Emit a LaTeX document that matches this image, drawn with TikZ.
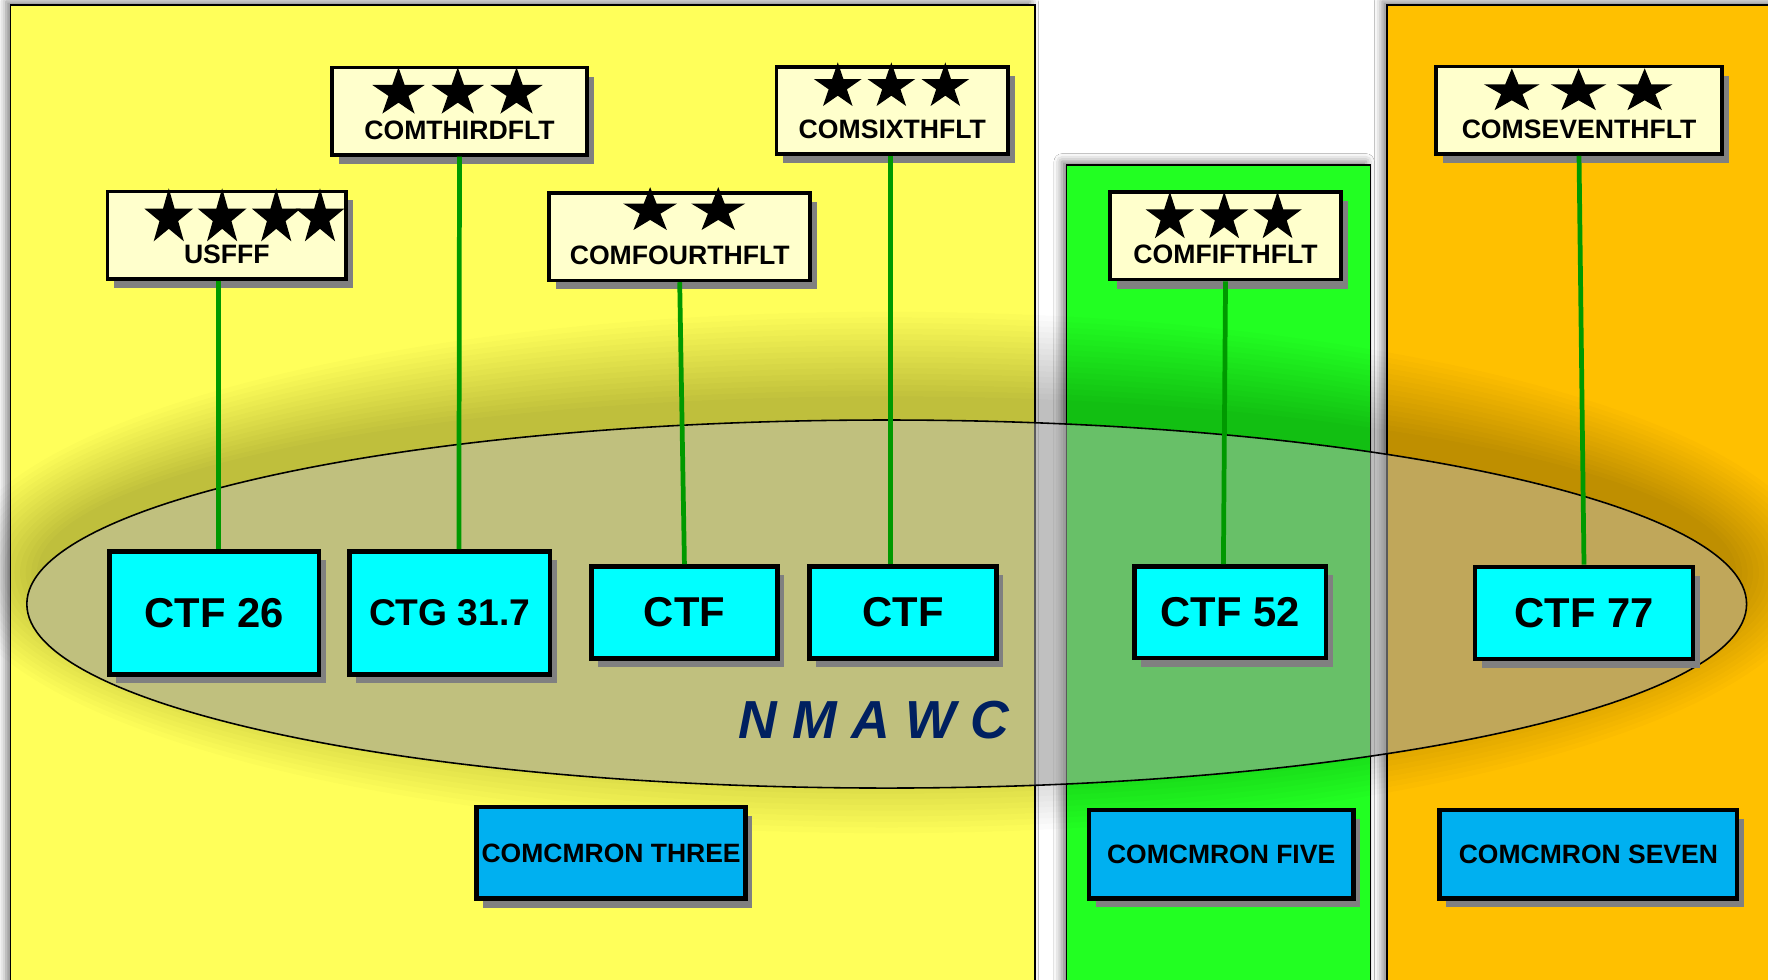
\documentclass[tikz,border=0pt]{standalone}
\usepackage{fontspec}
\setmainfont{Liberation Sans}
\usetikzlibrary{shadows,shadows.blur}
\definecolor{panelyellow}{RGB}{255,255,90}
\definecolor{panelgreen}{RGB}{34,255,34}
\definecolor{panelorange}{RGB}{255,192,0}
\definecolor{cmdfill}{RGB}{255,255,204}
\definecolor{ctfcyan}{RGB}{0,255,255}
\definecolor{sqblue}{RGB}{0,176,240}
\definecolor{linkgreen}{RGB}{0,153,0}
\definecolor{navytext}{RGB}{0,32,96}
\definecolor{ellgray}{RGB}{151,151,151}
\definecolor{shadowgray}{RGB}{128,128,128}
\newcommand\milstar[4]{\fill[black, shift={(#1,#2)}, xscale=#3, yscale=#4] (270:1) \foreach \k in {0,...,4}{ -- (270+72*\k:1) -- (306+72*\k:0.382)} -- cycle;}
\tikzset{
  panel/.style={draw=black, line width=1.2pt, blur shadow={shadow xshift=-4pt, shadow yshift=3pt, shadow blur radius=7pt, shadow opacity=50}},
  boxshadow/.style={drop shadow={shadow xshift=6pt, shadow yshift=-8pt, fill=shadowgray, opacity=1}},
  cmdbox/.style={rectangle, draw=black, line width=3.3pt, fill=cmdfill, boxshadow, inner sep=0pt, minimum height=77.5pt},
  cmdlabel/.style={anchor=base, inner sep=0pt, font=\bfseries\fontsize{23.6}{26}\selectfont},
  ctfbox/.style={rectangle, draw=black, line width=4pt, fill=ctfcyan, boxshadow, inner sep=0pt, font=\bfseries\fontsize{37}{40}\selectfont},
  sqbox/.style={rectangle, draw=black, line width=4pt, fill=sqblue, boxshadow, inner sep=0pt, font=\bfseries\fontsize{23.5}{26}\selectfont},
  link/.style={draw=linkgreen, line width=4.2pt}
}
\begin{document}
\begin{tikzpicture}[x=1pt,y=-1pt]
\useasboundingbox (0,0) rectangle (1568,869);
\fill[white] (0,0) rectangle (1568,869);
\clip (0,0) rectangle (1568,869);
% panels
\path[panel, fill=panelyellow] (9.5,4.4) rectangle (917.8,890);
\path[panel, fill=panelgreen] (945.7,146.3) rectangle (1215.7,890);
\path[panel, fill=panelorange] (1230,4.4) rectangle (1590,890);
% glow around the ellipse
\begin{scope}[even odd rule]
\clip (-20,-20) rectangle (1600,900) (786.4,535.7) ellipse [x radius=762.6, y radius=163.2];
\foreach \i in {1,...,16} \fill[black, opacity=0.016] (786.4,507.7) ellipse [x radius={748.6+5*\i}, y radius={151.2+5*\i}];
\end{scope}
% ellipse
\fill[ellgray, opacity=0.6] (786.4,535.7) ellipse [x radius=762.6, y radius=163.2];
\draw[black, line width=1.4pt] (786.4,535.7) ellipse [x radius=762.6, y radius=163.2];
% command boxes
\node[cmdbox, minimum width=211.7pt] (usfff) at (201.2,208.5) {};
\node[cmdbox, minimum width=226pt] (third) at (407.5,98.6) {};
\node[cmdbox, minimum width=231.5pt] (fourth) at (602.8,209.9) {};
\node[cmdbox, minimum width=205.7pt] (sixth) at (791.4,98) {};
\node[cmdbox, minimum width=205.2pt] (fifth) at (1086.9,209.2) {};
\node[cmdbox, minimum width=253.7pt] (seventh) at (1400.4,97.8) {};
% task force boxes
\node[ctfbox, minimum width=186pt, minimum height=109pt] (ctf26) at (190,543.5) {CTF 26};
\node[ctfbox, minimum width=178pt, minimum height=109pt, font=\bfseries\fontsize{33}{36}\selectfont] (ctg317) at (398.8,543.5) {CTG 31.7};
\node[ctfbox, minimum width=165pt, minimum height=81.5pt] (ctfa) at (607,543.1) {CTF};
\node[ctfbox, minimum width=165.6pt, minimum height=81.5pt] (ctfb) at (800.8,543.1) {CTF};
\node[ctfbox, minimum width=170pt, minimum height=81.5pt] (ctf52) at (1091,543) {CTF 52};
\node[ctfbox, minimum width=193pt, minimum height=81.5pt] (ctf77) at (1404.8,543.5) {CTF 77};
% links
\draw[link] ([xshift=-7.2pt]usfff.south) -- ([xshift=4pt]ctf26.north);
\draw[link] (third.south) -- ([xshift=8.2pt]ctg317.north);
\draw[link] (fourth.south) -- (ctfa.north);
\draw[link] ([xshift=-1.4pt]sixth.south) -- ([xshift=-10.8pt]ctfb.north);
\draw[link] (fifth.south) -- ([xshift=-6pt]ctf52.north);
\draw[link] (seventh.south) -- (ctf77.north);
% stars
\milstar{149.7}{193}{22.8}{26}\milstar{197}{193}{22.8}{26}\milstar{245}{193}{22.8}{26}\milstar{283.8}{193}{22.8}{26}
\milstar{353.4}{82.4}{24.4}{22.7}\milstar{406}{82.4}{24.4}{22.7}\milstar{458.1}{82.4}{24.4}{22.7}
\milstar{576.6}{187}{25.2}{21}\milstar{637}{187}{25.2}{21}
\milstar{743}{76.7}{22.3}{21.4}\milstar{790.5}{76.7}{22.3}{21.4}\milstar{838.4}{76.7}{22.3}{21.4}
\milstar{1037.5}{192.8}{22.5}{22.8}\milstar{1085.7}{192.8}{22.5}{22.8}\milstar{1133}{192.8}{22.5}{22.8}
\milstar{1340.8}{81.1}{26}{20.5}\milstar{1400}{81.1}{26}{20.5}\milstar{1458.6}{81.1}{26}{20.5}
% command labels
\node[cmdlabel] (usfffL) at ([yshift=15.5pt]usfff.south) {USFFF};
\node[cmdlabel] (thirdL) at ([yshift=15.5pt]third.south) {COMTHIRDFLT};
\node[cmdlabel] (fourthL) at ([yshift=15.5pt]fourth.south) {COMFOURTHFLT};
\node[cmdlabel] (sixthL) at ([yshift=15.5pt]sixth.south) {COMSIXTHFLT};
\node[cmdlabel] (fifthL) at ([yshift=15.5pt]fifth.south) {COMFIFTHFLT};
\node[cmdlabel] (seventhL) at ([yshift=15.5pt]seventh.south) {COMSEVENTHFLT};
% squadron boxes
\node[sqbox, minimum width=238.5pt, minimum height=81.2pt] (cmron3) at (542,756.4) {COMCMRON THREE};
\node[sqbox, minimum width=234.3pt, minimum height=78.5pt] (cmron5) at (1083,757.5) {COMCMRON FIVE};
\node[sqbox, minimum width=264pt, minimum height=78.5pt] (cmron7) at (1408.7,757.5) {COMCMRON SEVEN};
% NMAWC
\node[anchor=base, inner sep=0pt, text=navytext, font=\bfseries\itshape\fontsize{47.5}{50}\selectfont] (nmawc) at (775.4,654.7) {N M A W C};
\end{tikzpicture}
\end{document}
